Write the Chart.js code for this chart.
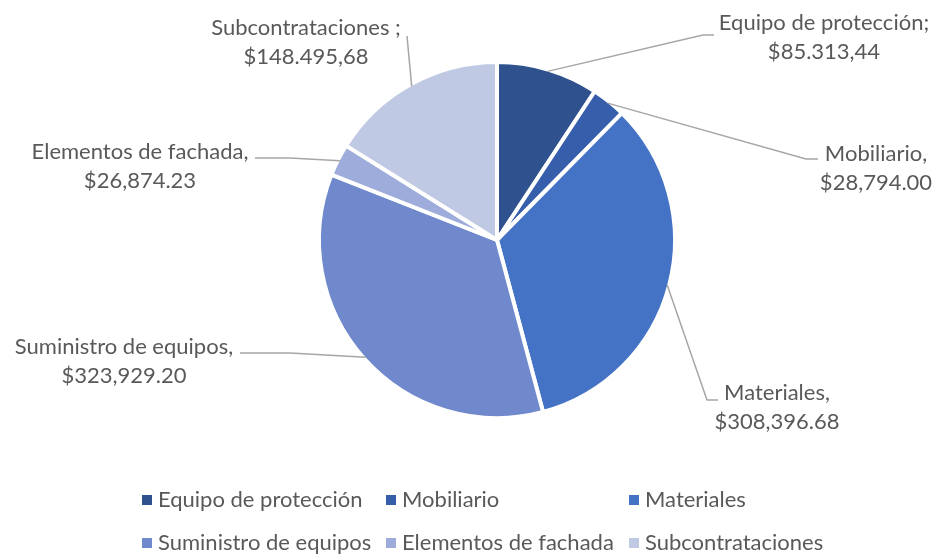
<!DOCTYPE html>
<html>
<head>
<meta charset="utf-8">
<script src="https://cdn.jsdelivr.net/npm/chart.js@4/dist/chart.umd.min.js"></script>
<style>
  html, body { margin: 0; padding: 0; background: #fff; }
  #c { display: block; }
</style>
</head>
<body>
<canvas id="c" width="936" height="554"></canvas>
<script>
const categories = ['Equipo de protección', 'Mobiliario', 'Materiales', 'Suministro de equipos', 'Elementos de fachada', 'Subcontrataciones']
const values = [85313.44, 28794.00, 308396.68, 323929.20, 26874.23, 148495.68]
// data label text as shown in the picture (mixed separators kept as-is)
const labelNames = ['Equipo de protección;', 'Mobiliario,', 'Materiales,', 'Suministro de equipos,', 'Elementos de fachada,', 'Subcontrataciones ;']
const labelValues = ['$85.313,44', '$28,794.00', '$308,396.68', '$323,929.20', '$26,874.23', '$148.495,68']
const colors = ['#2f528f', '#365eab', '#4472c4', '#6f89cc', '#9dacda', '#c0c9e4']

const FONT = '22px Lato, "Open Sans", sans-serif'
const TEXT = '#595959'

// label layout: text centre x, first line y, leader elbow and leader end
const labelLayout = [
    { x: 824, y: 23, elbow: [703, 35], end: [714, 35] },
    { x: 876, y: 154, elbow: [806, 159], end: [818, 159] },
    { x: 777, y: 393, elbow: [707, 400], end: [718, 400] },
    { x: 124, y: 347, elbow: [290, 353], end: [240, 353] },
    { x: 140, y: 152, elbow: [290, 158], end: [255, 158] },
    { x: 306, y: 28, elbow: [407, 36], end: [407, 36] }
]

const labelsPlugin = {
    id: 'outLabels',
    afterDraw(chart) {
        const ctx = chart.ctx
        const meta = chart.getDatasetMeta(0)
        ctx.save()
        meta.data.forEach((arc, i) => {
            const p = arc.getProps(['x', 'y', 'startAngle', 'endAngle', 'outerRadius'], true)
            const mid = (p.startAngle + p.endAngle) / 2
            const r = p.outerRadius - 2
            const sx = p.x + Math.cos(mid) * r
            const sy = p.y + Math.sin(mid) * r
            const L = labelLayout[i]
            ctx.strokeStyle = '#a6a6a6'
            ctx.lineWidth = 1.5
            ctx.beginPath()
            ctx.moveTo(sx, sy)
            ctx.lineTo(L.elbow[0], L.elbow[1])
            ctx.lineTo(L.end[0], L.end[1])
            ctx.stroke()

            ctx.fillStyle = TEXT
            ctx.font = FONT
            ctx.textAlign = 'center'
            ctx.textBaseline = 'middle'
            ctx.fillText(labelNames[i], L.x, L.y)
            ctx.fillText(labelValues[i], L.x, L.y + 29)
        })

        // legend, 3 columns x 2 rows
        const colX = [142, 386, 629]
        const rowY = [500, 543]
        ctx.font = FONT
        ctx.textAlign = 'left'
        ctx.textBaseline = 'middle'
        categories.forEach((name, i) => {
            const x = colX[i % 3]
            const y = rowY[Math.floor(i / 3)]
            ctx.fillStyle = colors[i]
            ctx.fillRect(x, y - 5, 10, 10)
            ctx.fillStyle = TEXT
            ctx.fillText(name, x + 16, y)
        })
        ctx.restore()
    }
}

new Chart(document.getElementById('c').getContext('2d'), {
    type: 'pie',
    data: {
        labels: categories,
        datasets: [{
            data: values,
            backgroundColor: colors,
            borderColor: '#ffffff',
            borderWidth: 4
        }]
    },
    options: {
        responsive: false,
        animation: false,
        layout: { padding: { left: 317, right: 259, top: 60, bottom: 134 } },
        plugins: {
            legend: { display: false },
            tooltip: { enabled: false }
        }
    },
    plugins: [labelsPlugin]
})
</script>
</body>
</html>
